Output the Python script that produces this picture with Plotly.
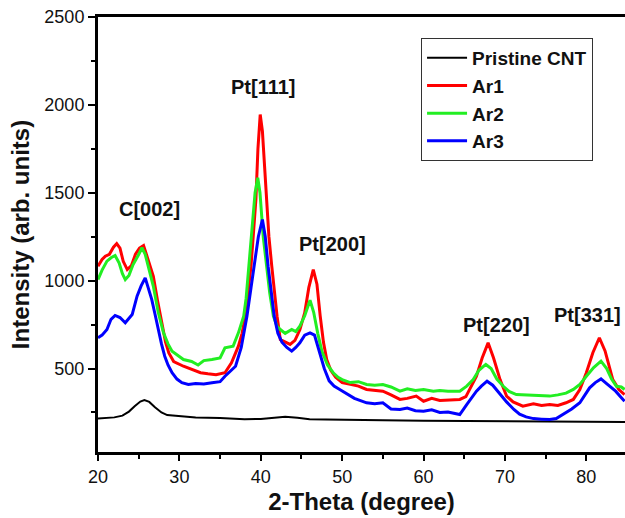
import plotly.graph_objects as go

# ---- data ----
cnt_x = [20, 21, 22, 23, 23.8, 24.5, 25.2, 25.7, 26.3, 27, 27.8, 28.5, 30, 32, 35, 38, 40, 41.5, 43, 44.5,
         46, 48, 50, 55, 60, 65, 70, 75, 80, 85]
cnt_y = [215, 218, 222, 232, 255, 285, 312, 320, 310, 280, 250, 235, 228, 222, 218, 212, 213, 218, 226, 220,
         212, 210, 208, 205, 203, 202, 200, 198, 197, 195]

ar1_x = [20, 20.5, 20.9, 21.4, 21.9, 22.3, 22.7, 23.1, 23.6, 24.1, 24.6, 25.1, 25.6, 26.2, 26.8, 27.3, 27.85,
         28.3, 28.7, 29.3, 30.5, 31.5, 32.6, 33.5, 34.5, 35.6, 36.4, 37.25, 37.7, 38.1, 38.5, 38.8, 39.1, 39.4,
         39.65, 39.93, 40.2, 40.45, 40.7, 41.0, 41.35, 41.7, 42.0, 42.4, 43.0, 43.6, 44.2, 44.8, 45.4, 45.9,
         46.45, 46.9, 47.3, 47.7, 48.1, 48.6, 49.2, 50, 51, 52, 53, 54, 55, 56, 57.1, 58, 59.1, 60, 61, 62, 63,
         64.45, 65.2, 65.8, 66.5, 67.2, 67.93, 68.6, 69.4, 70.2, 71, 72.2, 73.5, 74.5, 75.5, 76.5, 77.5, 78.4,
         79.2, 80, 80.8, 81.6, 82.3, 83.25, 84, 84.7]
ar1_y = [1082, 1120, 1139, 1150, 1190, 1211, 1185, 1110, 1063, 1085, 1150, 1185, 1200, 1110, 1025, 890, 760,
         650, 589, 540, 513, 495, 476, 470, 465, 476, 532, 627, 700, 798, 950, 1082, 1270, 1462,
         1750, 1945, 1850, 1640, 1462, 1250, 1082, 920, 798, 665, 650, 637, 660, 720, 818, 960,
         1063, 980, 800, 650, 551, 490, 450, 420, 410, 400, 381, 375, 371, 350, 324, 330, 343, 314, 330, 318, 320,
         324, 340, 390, 456, 560, 646, 560, 437, 343, 310, 286, 300, 290, 295, 290, 305, 324,
         380, 476, 590, 675, 600, 437, 380, 352]

ar2_x = [20, 20.5, 21.1, 21.6, 22.1, 22.6, 23.0, 23.35, 23.8, 24.3, 25.0, 25.4, 25.8, 26.3, 26.8, 27.4, 28.05,
         28.6, 29.1, 30.5, 31.5, 32.3, 33, 34, 35, 35.6, 36.6, 37.25, 37.9, 38.2, 38.55, 38.9, 39.3, 39.63, 39.9,
         40.3, 40.7, 41.1, 41.55, 42.0, 42.4, 43.0, 43.8, 44.3, 44.8, 45.4, 46.05, 46.5, 47.0, 47.5, 48.2, 48.9,
         49.5, 50, 51, 52, 53, 54, 55, 56, 57.1, 58, 59, 60, 61.2, 62, 63, 64.45, 65.3, 66.1, 66.8, 67.65, 68.3,
         69, 69.8, 70.5, 71.4, 72.5, 73.5, 74.3, 75.5, 76.5, 77.5, 78.4, 79.2, 80, 80.9, 81.8, 82.5, 83.1, 83.7,
         84.3, 84.7]
ar2_y = [1006, 1060, 1111, 1130, 1143, 1100, 1040, 1006, 1030, 1090, 1149, 1187, 1150, 1060, 968, 820, 703,
         640, 599, 551, 540, 520, 545, 551, 560, 618, 627, 703, 798, 900, 1082, 1300, 1500, 1585, 1500,
         1250, 1082, 930, 798, 740, 722, 700, 722, 710, 741, 800, 889, 820, 700, 600, 520, 476,
         450, 437, 420, 425, 409, 405, 409, 395, 371, 385, 375, 381, 371, 375, 370, 371, 400, 437, 490, 523, 500,
         440, 399, 370, 352, 350, 345, 343, 343, 350, 360, 381, 410, 456, 505, 542, 500, 440, 399,
         395, 381]

ar3_x = [20, 20.5, 21.1, 21.6, 22.1, 22.7, 23.35, 23.8, 24.2, 24.8, 25.3, 25.8, 26.2, 26.6, 27.0, 27.4, 27.8,
         28.2, 28.6, 29.1, 29.7, 30.3, 31.1, 32, 33, 34, 35, 35.6, 36.3, 36.9, 37.6, 38.3, 38.8, 39.2, 39.7,
         40.2, 40.55, 40.9, 41.3, 41.65, 42.1, 42.6, 43.2, 43.8, 44.3, 44.8, 45.4, 46.05, 46.6, 47.2, 47.8, 48.4,
         49, 49.7, 50.5, 51.5, 53, 54, 55, 56, 57.1, 58, 59, 60, 61, 62, 63, 64.45, 65.3, 66, 66.5, 67.1, 67.8,
         68.5, 69.4, 70.2, 71.1, 71.8, 72.6, 73.5, 74.5, 75.5, 76.3, 77.1, 78.2, 79.2, 80.4, 81.1, 81.8, 82.6,
         83.6, 84.2, 84.7]
ar3_y = [675, 690, 722, 780, 802, 790, 760, 785, 807, 912, 970, 1016, 960, 893, 810, 722, 640,
         570, 520, 476, 440, 419, 409, 415, 412, 419, 425, 456, 490, 513, 620, 798, 960, 1082, 1250,
         1348, 1250, 1082, 930, 798, 700, 650, 620, 599, 620, 646, 690, 703, 690, 600, 500, 430,
         400, 381, 360, 330, 305, 300, 305, 270, 267, 275, 260, 257, 265, 250, 252, 238, 295, 340, 371, 400, 428,
         405, 352, 310, 267, 240, 225, 215, 212, 210, 215, 238, 270, 305, 390, 420, 441, 410,
         371, 340, 314]

peak_labels = ["C[002]", "Pt[111]", "Pt[200]", "Pt[220]", "Pt[331]"]
peak_x = [26.3, 40.3, 48.75, 68.9, 80.2]
peak_y = [1405, 2099, 1206, 745, 802]

x_ticks = [20, 30, 40, 50, 60, 70, 80]
y_ticks = [500, 1000, 1500, 2000, 2500]

FONT = "Liberation Sans, Arial, sans-serif"

fig = go.Figure()
fig.add_trace(go.Scatter(x=cnt_x, y=cnt_y, mode="lines", name="Pristine CNT",
                         line=dict(color="#000000", width=2)))
fig.add_trace(go.Scatter(x=ar1_x, y=ar1_y, mode="lines", name="Ar1",
                         line=dict(color="#FF0000", width=3)))
fig.add_trace(go.Scatter(x=ar2_x, y=ar2_y, mode="lines", name="Ar2",
                         line=dict(color="#22EE22", width=3)))
fig.add_trace(go.Scatter(x=ar3_x, y=ar3_y, mode="lines", name="Ar3",
                         line=dict(color="#0000FF", width=3)))

for t, xx, yy in zip(peak_labels, peak_x, peak_y):
    fig.add_annotation(x=xx, y=yy, text=t, showarrow=False,
                       font=dict(family=FONT, size=20, color="#111111", weight="bold"))

fig.update_layout(
    width=625, height=518,
    margin=dict(l=98, r=0, t=17, b=66, autoexpand=False),
    paper_bgcolor="white", plot_bgcolor="white",
    font=dict(family=FONT, color="#111111"),
    showlegend=True,
    legend=dict(x=0.613, y=0.952, xanchor="left", yanchor="top",
                bgcolor="white", bordercolor="#333333", borderwidth=1,
                font=dict(family=FONT, size=19, color="#111111", weight="bold"),
                tracegroupgap=0, itemwidth=40),
)
fig.update_xaxes(range=[20, 84.75], tickvals=x_ticks, showgrid=False, zeroline=False, automargin=False,
                 showline=True, linecolor="black", linewidth=3, mirror=True,
                 ticks="outside", ticklen=6, tickwidth=2, tickcolor="black",
                 minor=dict(dtick=5, tick0=0, ticks="outside", ticklen=4, tickwidth=2, tickcolor="black"),
                 tickfont=dict(family=FONT, size=18, color="#111111"),
                 title=dict(text="<b>2-Theta (degree)</b>", font=dict(family=FONT, size=24, color="#111111"),
                            standoff=8))
fig.update_yaxes(range=[25, 2500], tickvals=y_ticks, showgrid=False, zeroline=False, automargin=False,
                 showline=True, linecolor="black", linewidth=3, mirror=False,
                 ticks="outside", ticklen=7, tickwidth=2, tickcolor="black",
                 minor=dict(dtick=250, tick0=0, ticks="outside", ticklen=4, tickwidth=2, tickcolor="black"),
                 tickfont=dict(family=FONT, size=18, color="#111111"),
                 title=dict(text="<b>Intensity (arb. units)</b>", font=dict(family=FONT, size=24, color="#111111"),
                            standoff=8))

fig.write_html("out.html", config={"displayModeBar": False},
               post_script="document.body.style.margin='0';document.body.style.overflow='hidden';")
